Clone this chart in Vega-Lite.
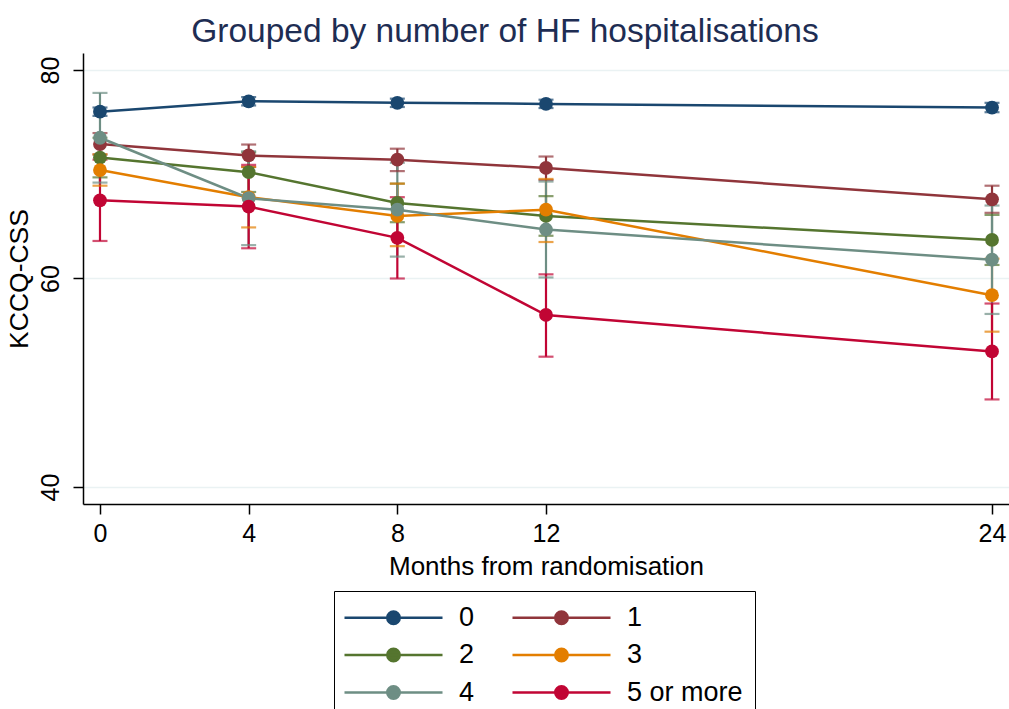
{
  "$schema": "https://vega.github.io/schema/vega-lite/v6.json",
  "autosize": "none",
  "width": 926,
  "height": 451,
  "padding": {"left": 83, "top": 53, "right": 0, "bottom": 205},
  "background": "#ffffff",
  "title": {
    "text": "Grouped by number of HF hospitalisations",
    "font": "Liberation Sans",
    "fontSize": 33.5,
    "fontWeight": "normal",
    "color": "#1e2d53",
    "anchor": "middle",
    "frame": "group",
    "dx": -41,
    "baseline": "alphabetic",
    "offset": -22
  },
  "config": {
    "view": {"stroke": null},
    "font": "Liberation Sans",
    "axis": {
      "labelFont": "Liberation Sans",
      "titleFont": "Liberation Sans",
      "labelColor": "#000000",
      "titleColor": "#000000",
      "titleFontWeight": "normal",
      "domainColor": "#000000",
      "domainWidth": 1.5,
      "tickColor": "#000000",
      "tickWidth": 1.5,
      "tickSize": 10,
      "gridColor": "#eaf2f3",
      "gridWidth": 1.5
    }
  },
  "data": {
    "values": [
      {"group": "0", "month": 0, "kccq": 76.0, "lo": 75.6, "hi": 76.4},
      {"group": "0", "month": 4, "kccq": 77.0, "lo": 76.6, "hi": 77.4},
      {"group": "0", "month": 8, "kccq": 76.85, "lo": 76.45, "hi": 77.25},
      {"group": "0", "month": 12, "kccq": 76.75, "lo": 76.35, "hi": 77.15},
      {"group": "0", "month": 24, "kccq": 76.4, "lo": 75.95, "hi": 76.85},
      {"group": "1", "month": 0, "kccq": 72.9, "lo": 71.9, "hi": 73.95},
      {"group": "1", "month": 4, "kccq": 71.8, "lo": 70.7, "hi": 72.85},
      {"group": "1", "month": 8, "kccq": 71.4, "lo": 70.3, "hi": 72.45},
      {"group": "1", "month": 12, "kccq": 70.6, "lo": 69.45, "hi": 71.7},
      {"group": "1", "month": 24, "kccq": 67.6, "lo": 66.3, "hi": 68.9},
      {"group": "2", "month": 0, "kccq": 71.6, "lo": 69.7, "hi": 73.5},
      {"group": "2", "month": 4, "kccq": 70.2, "lo": 68.3, "hi": 72.1},
      {"group": "2", "month": 8, "kccq": 67.25, "lo": 65.4, "hi": 69.1},
      {"group": "2", "month": 12, "kccq": 66.0, "lo": 64.1, "hi": 67.9},
      {"group": "2", "month": 24, "kccq": 63.7, "lo": 61.3, "hi": 66.1},
      {"group": "3", "month": 0, "kccq": 70.4, "lo": 68.9, "hi": 71.9},
      {"group": "3", "month": 4, "kccq": 67.8, "lo": 64.9, "hi": 70.7},
      {"group": "3", "month": 8, "kccq": 66.0, "lo": 63.1, "hi": 69.1},
      {"group": "3", "month": 12, "kccq": 66.6, "lo": 63.5, "hi": 69.55},
      {"group": "3", "month": 24, "kccq": 58.4, "lo": 54.9, "hi": 61.9},
      {"group": "4", "month": 0, "kccq": 73.5, "lo": 69.2, "hi": 77.8},
      {"group": "4", "month": 4, "kccq": 67.7, "lo": 63.2, "hi": 72.2},
      {"group": "4", "month": 8, "kccq": 66.6, "lo": 62.1, "hi": 71.1},
      {"group": "4", "month": 12, "kccq": 64.7, "lo": 60.1, "hi": 69.3},
      {"group": "4", "month": 24, "kccq": 61.8, "lo": 56.6, "hi": 67.0},
      {"group": "5 or more", "month": 0, "kccq": 67.5, "lo": 63.6, "hi": 71.4},
      {"group": "5 or more", "month": 4, "kccq": 66.9, "lo": 62.9, "hi": 70.9},
      {"group": "5 or more", "month": 8, "kccq": 63.9, "lo": 60.0, "hi": 67.8},
      {"group": "5 or more", "month": 12, "kccq": 56.5, "lo": 52.5, "hi": 60.4},
      {"group": "5 or more", "month": 24, "kccq": 53.0, "lo": 48.4, "hi": 57.6}
    ]
  },
  "encoding": {
    "x": {
      "field": "month",
      "type": "quantitative",
      "scale": {"domain": [-0.457, 24.457], "nice": false, "zero": false},
      "axis": {
        "values": [0, 4, 8, 12, 24],
        "title": "Months from randomisation",
        "titleFontSize": 26,
        "titlePadding": 7,
        "labelFontSize": 25,
        "labelPadding": 7,
        "grid": false,
        "labelFlush": false,
        "labelOverlap": false
      }
    },
    "color": {
      "field": "group",
      "type": "nominal",
      "scale": {
        "domain": ["0", "1", "2", "3", "4", "5 or more"],
        "range": ["#1a476f", "#90353b", "#55752f", "#e37e00", "#6e8e84", "#c10534"]
      },
      "legend": {
        "title": null,
        "orient": "none",
        "direction": "horizontal",
        "legendX": 251,
        "legendY": 538,
        "columns": 2,
        "padding": 12,
        "strokeColor": "#000000",
        "fillColor": "#ffffff",
        "labelFont": "Liberation Sans",
        "labelFontSize": 27,
        "labelColor": "#000000",
        "labelOffset": 51,
        "symbolOffset": 33,
        "columnPadding": 32,
        "rowPadding": 9.5,
        "symbolType": "M-3.77,0H3.77M-0.48,0A0.48,0.48,0,1,0,0.48,0A0.48,0.48,0,1,0,-0.48,0Z",
        "symbolSize": 676,
        "symbolStrokeWidth": 2.5,
        "encode": {
          "symbols": {
            "update": {
              "fill": {"scale": "color", "field": "value"},
              "stroke": {"scale": "color", "field": "value"},
              "fillOpacity": {"value": 1},
              "strokeOpacity": {"value": 1}
            }
          }
        }
      }
    }
  },
  "layer": [
    {
      "mark": {"type": "rule", "strokeWidth": 2.2},
      "encoding": {
        "y": {
          "field": "lo",
          "type": "quantitative",
          "scale": {"domain": [38.37, 81.63], "nice": false, "zero": false},
          "axis": {
            "values": [40, 60, 80],
            "title": "KCCQ-CSS",
            "titleFontSize": 26.5,
            "titlePadding": 5,
            "labelFontSize": 25,
            "labelAngle": -90,
            "labelPadding": 10,
            "grid": true,
            "labelFlush": false,
            "labelOverlap": false
          }
        },
        "y2": {"field": "hi"}
      }
    },
    {
      "mark": {"type": "tick", "orient": "horizontal", "size": 15, "thickness": 2.2},
      "encoding": {"y": {"field": "lo", "type": "quantitative"}}
    },
    {
      "mark": {"type": "tick", "orient": "horizontal", "size": 15, "thickness": 2.2},
      "encoding": {"y": {"field": "hi", "type": "quantitative"}}
    },
    {
      "mark": {"type": "line", "strokeWidth": 2.5},
      "encoding": {"y": {"field": "kccq", "type": "quantitative"}}
    },
    {
      "mark": {"type": "point", "filled": true, "size": 190, "opacity": 1},
      "encoding": {"y": {"field": "kccq", "type": "quantitative"}}
    }
  ]
}
